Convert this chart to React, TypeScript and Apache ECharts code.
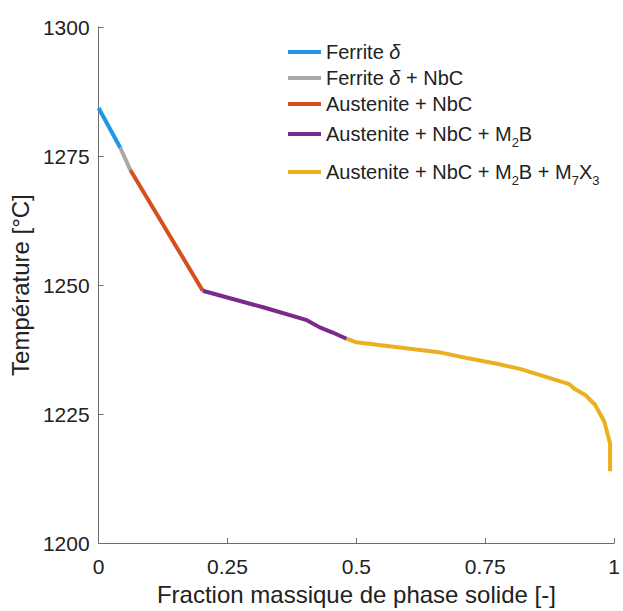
import React, { useEffect, useRef } from "react";
import * as echarts from "echarts";

const xTicks = [0, 0.25, 0.5, 0.75, 1];
const yTicks = [1200, 1225, 1250, 1275, 1300];

const seriesNames = [
  "Ferrite δ",
  "Ferrite δ + NbC",
  "Austenite + NbC",
  "Austenite + NbC + M2B",
  "Austenite + NbC + M2B + M7X3",
];
const seriesColors = ["#1e98e6", "#a8a8a8", "#d4501c", "#7a2a8c", "#ecaf21"];

const ferriteData = [
  [0, 1284.3],
  [0.042, 1276.6],
];
const ferriteNbcData = [
  [0.042, 1276.6],
  [0.0615, 1272.3],
];
const austeniteNbcData = [
  [0.0615, 1272.3],
  [0.202, 1248.9],
];
const austeniteM2bData = [
  [0.202, 1248.9],
  [0.319, 1245.7],
  [0.404, 1243.2],
  [0.429, 1241.8],
  [0.454, 1240.8],
  [0.481, 1239.6],
];
const austeniteM7x3Data = [
  [0.481, 1239.6],
  [0.5, 1238.9],
  [0.66, 1237.0],
  [0.717, 1235.8],
  [0.775, 1234.7],
  [0.819, 1233.7],
  [0.913, 1230.8],
  [0.923, 1229.9],
  [0.944, 1228.7],
  [0.963, 1226.8],
  [0.981, 1223.5],
  [0.992, 1219.3],
  [0.992, 1213.9],
];

const allData = [ferriteData, ferriteNbcData, austeniteNbcData, austeniteM2bData, austeniteM7x3Data];

const legendLabels: Record<string, string> = {
  "Ferrite δ": "Ferrite {i|δ}",
  "Ferrite δ + NbC": "Ferrite {i|δ} + NbC",
  "Austenite + NbC": "Austenite + NbC",
  "Austenite + NbC + M2B": "Austenite + NbC + M{s|2}B",
  "Austenite + NbC + M2B + M7X3": "Austenite + NbC + M{s|2}B + M{s|7}X{s|3}",
};
const legendTops = [42, 68, 94, 119.5, 157.5];

const FONT = "'Liberation Sans', Arial, Helvetica, sans-serif";

export default function App() {
  const ref = useRef<HTMLDivElement>(null);
  useEffect(() => {
    if (!ref.current) return;
    document.body.style.margin = "0";
    document.body.style.overflow = "hidden";
    document.documentElement.style.overflow = "hidden";
    const chart = echarts.init(ref.current, undefined, { renderer: "svg" });
    const textColor = "#222";
    const axisColor = "#6e6e6e";
    chart.setOption({
      animation: false,
      backgroundColor: "#fff",
      textStyle: { fontFamily: FONT },
      grid: { left: 97, right: 5, top: 27, bottom: 65, containLabel: false },
      legend: seriesNames.map((n, i) => ({
        data: [n],
        left: 288,
        top: legendTops[i],
        padding: 0,
        icon: "rect",
        itemWidth: 33,
        itemHeight: 4,
        itemGap: 0,
        selectedMode: false,
        formatter: (name: string) => legendLabels[name] ?? name,
        textStyle: {
          fontFamily: FONT,
          fontSize: 20,
          color: textColor,
          rich: {
            i: { fontFamily: FONT, fontSize: 20, fontStyle: "italic", color: textColor },
            s: { fontFamily: FONT, fontSize: 13, color: textColor, padding: [16, 0, 0, 0], lineHeight: 13 },
          },
        },
      })),
      xAxis: {
        type: "value",
        min: xTicks[0],
        max: xTicks[xTicks.length - 1],
        interval: 0.25,
        name: "Fraction massique de phase solide [-]",
        nameLocation: "middle",
        nameGap: 33,
        nameTextStyle: { fontFamily: FONT, fontSize: 24, color: textColor },
        axisLine: { show: true, lineStyle: { color: axisColor, width: 1 } },
        axisTick: { show: true, inside: true, length: 5, lineStyle: { color: axisColor } },
        axisLabel: {
          fontFamily: FONT,
          fontSize: 21,
          color: textColor,
          margin: 13,
          formatter: (v: number) => String(v),
        },
        splitLine: { show: false },
      },
      yAxis: {
        type: "value",
        min: yTicks[0],
        max: yTicks[yTicks.length - 1],
        interval: 25,
        name: "Température [°C]",
        nameLocation: "middle",
        nameGap: 60,
        nameRotate: 90,
        nameTextStyle: { fontFamily: FONT, fontSize: 24, color: textColor },
        axisLine: { show: true, lineStyle: { color: axisColor, width: 1 } },
        axisTick: { show: true, inside: true, length: 5, lineStyle: { color: axisColor } },
        axisLabel: {
          fontFamily: FONT,
          fontSize: 21,
          color: textColor,
          margin: 9,
          formatter: (v: number) => String(v),
        },
        splitLine: { show: false },
      },
      series: seriesNames.map((n, i) => ({
        name: n,
        type: "line",
        data: allData[i],
        symbol: "none",
        color: seriesColors[i],
        lineStyle: { color: seriesColors[i], width: 4 },
        clip: false,
      })),
    });
    return () => chart.dispose();
  }, []);
  return <div ref={ref} style={{ width: 623, height: 611, position: "relative", overflow: "hidden" }} />;
}
